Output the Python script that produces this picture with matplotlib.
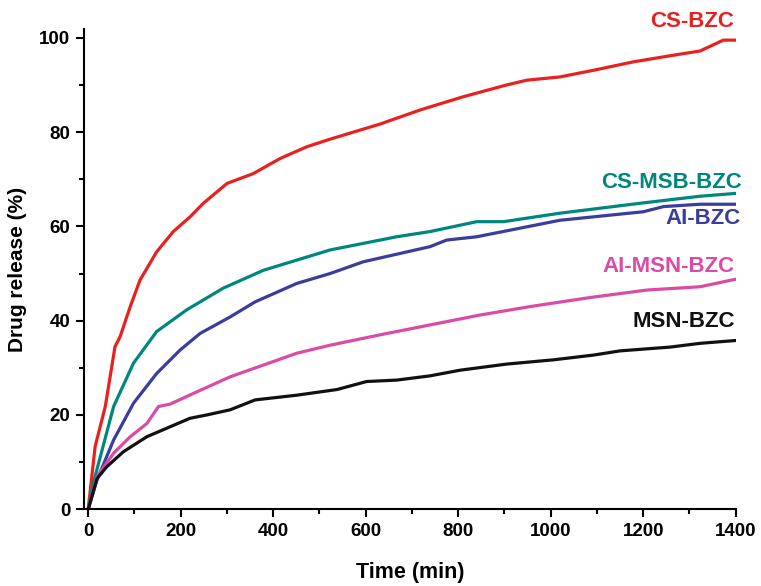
import matplotlib
matplotlib.use("Agg")
import matplotlib.pyplot as plt
from matplotlib.ticker import MultipleLocator

plt.rcParams['font.family'] = ['Liberation Sans', 'DejaVu Sans']
plt.rcParams['font.weight'] = 'bold'

# Release profiles: time (min) vs cumulative drug release (%)
cs_bzc_t = [0, 15, 37, 58, 69, 91, 112, 148, 184, 220, 249, 300, 357, 415, 473, 523, 631,
            718, 811, 905, 948, 1020, 1092, 1179, 1265, 1323, 1373, 1400]
cs_bzc_v = [0, 13.3, 21.8, 34.5, 36.6, 43.0, 48.6, 54.6, 58.9, 62.0, 64.9, 69.1, 71.2, 74.4,
            76.9, 78.5, 81.7, 84.7, 87.5, 90.0, 91.0, 91.7, 93.1, 94.9, 96.3, 97.2, 99.5, 99.5]

cs_msb_t = [0, 11, 55, 98, 148, 213, 292, 379, 523, 667, 739, 840, 898, 1020, 1193, 1323, 1400]
cs_msb_v = [0, 5.5, 21.8, 31.0, 37.7, 42.3, 46.9, 50.7, 55.0, 57.8, 58.9, 61.0, 61.0, 62.8,
            64.9, 66.4, 67.0]

ai_bzc_t = [0, 19, 55, 98, 148, 199, 242, 307, 361, 451, 523, 595, 667, 739, 775, 840, 1020,
            1200, 1244, 1323, 1400]
ai_bzc_v = [0, 6.2, 14.7, 22.5, 28.8, 33.8, 37.3, 40.8, 44.0, 47.9, 50.0, 52.5, 54.1, 55.7,
            57.1, 57.8, 61.3, 63.1, 64.2, 64.7, 64.7]

ai_msn_t = [0, 19, 55, 91, 127, 152, 177, 228, 307, 451, 523, 631, 739, 847, 956,
            1064, 1092, 1208, 1323, 1400]
ai_msn_v = [0, 6.9, 11.9, 15.4, 18.2, 21.8, 22.3, 24.6, 28.1, 33.1, 34.8, 37.0, 39.1, 41.2,
            43.0, 44.6, 45.0, 46.5, 47.2, 48.8]

msn_t = [0, 19, 40, 76, 127, 170, 220, 256, 307, 361, 451, 538, 602, 667, 739, 804,
         905, 1006, 1092, 1150, 1258, 1323, 1400]
msn_v = [0, 6.5, 9.0, 12.2, 15.4, 17.2, 19.3, 20.0, 21.1, 23.2, 24.2, 25.4, 27.1, 27.4, 28.3,
         29.5, 30.8, 31.7, 32.7, 33.6, 34.4, 35.2, 35.8]

series = [
    ("CS-BZC", cs_bzc_t, cs_bzc_v, "#e8211f", (1397, 103.5)),
    ("CS-MSB-BZC", cs_msb_t, cs_msb_v, "#00877d", (1414, 69.4)),
    ("AI-BZC", ai_bzc_t, ai_bzc_v, "#3a3d9c", (1410, 61.6)),
    ("AI-MSN-BZC", ai_msn_t, ai_msn_v, "#d94ca5", (1398, 51.4)),
    ("MSN-BZC", msn_t, msn_v, "#111111", (1398, 39.8)),
]

x_ticks = [0, 200, 400, 600, 800, 1000, 1200, 1400]
y_ticks = [0, 20, 40, 60, 80, 100]

fig = plt.figure(figsize=(7.61, 5.86), dpi=100)
ax = fig.add_axes([0.1104, 0.1309, 0.8564, 0.8191])

for name, t, v, color, (lx, ly) in series:
    ax.plot(t, v, color=color, lw=2.3, solid_joinstyle='round', solid_capstyle='round')
    ax.text(lx, ly, name, color=color, ha='right', va='center', fontsize=16,
            fontweight='bold', clip_on=False)

ax.set_xlim(-9, 1400)
ax.set_ylim(0, 101.8)
ax.set_xticks(x_ticks)
ax.set_yticks(y_ticks)
ax.xaxis.set_minor_locator(MultipleLocator(100))
ax.yaxis.set_minor_locator(MultipleLocator(10))

for side in ('top', 'right'):
    ax.spines[side].set_visible(False)
for side in ('left', 'bottom'):
    ax.spines[side].set_linewidth(1.5)

ax.tick_params(which='major', direction='out', length=6, width=1.5, labelsize=13.5, pad=4)
ax.tick_params(which='minor', direction='out', length=3.5, width=1.5)
for lab in ax.get_xticklabels() + ax.get_yticklabels():
    lab.set_fontweight('bold')

ax.set_xlabel("Time (min)", fontsize=15.5, fontweight='bold', labelpad=16)
ax.set_ylabel("Drug release (%)", fontsize=15, fontweight='bold', labelpad=9)

fig.savefig("out.png", dpi=100)
